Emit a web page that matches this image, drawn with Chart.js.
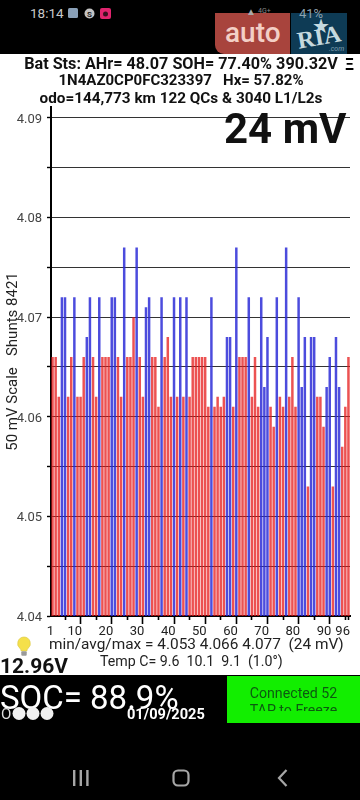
<!DOCTYPE html>
<html><head><meta charset="utf-8">
<style>
html,body{margin:0;padding:0;background:#fff;width:360px;height:800px;overflow:hidden;font-family:Roboto,sans-serif}
.a{position:absolute;white-space:pre;line-height:1}
.t{left:1px;width:360px;text-align:center;font-weight:700;color:#111}
#wrap{position:absolute;left:0;top:54px;width:360px;height:622px}
</style>
<script src="https://cdn.jsdelivr.net/npm/chart.js@4"></script>
</head><body>
<div class="a" style="left:0;top:0;width:360px;height:54px;background:#000"></div>
<div class="a" style="left:0;top:675px;width:360px;height:125px;background:#000"></div>
<div class="a" style="left:30px;top:7px;font-size:13.5px;color:#c9c9c9">18:14</div>
<svg class="a" style="left:67px;top:7px" width="46" height="14"><rect x="1" y="1" width="10" height="10" rx="1.5" fill="#8aa0b8"/><circle cx="22.5" cy="6.5" r="5" fill="#c4c4c4"/><text x="22.5" y="9.5" font-size="8" text-anchor="middle" fill="#222" font-family="Roboto" font-weight="700">S</text><rect x="33" y="1" width="11" height="11" rx="2" fill="#e0246e"/><circle cx="38.5" cy="7" r="2.5" fill="#3a1020"/></svg>
<div class="a" style="left:215px;top:13px;width:75px;height:41px;background:#a8443d;border-radius:0 0 0 9px"></div>
<div class="a" style="left:291px;top:13px;width:56px;height:41px;background:#0e3b55"></div>
<div class="a" style="left:225px;top:19px;font-size:28px;font-weight:500;color:#f3cfc6">auto</div>
<div class="a" style="left:297px;top:25px;font-size:24px;font-weight:700;font-family:'Liberation Serif',serif;color:#c5d9df;transform:rotate(-10deg)">RIA</div>
<div class="a" style="left:312px;top:16px;font-size:20px;color:#c5d9df">★</div>
<div class="a" style="left:329px;top:46px;font-size:7px;font-style:italic;color:#7f9fb0">.com</div>
<div class="a" style="left:246px;top:7px;font-size:10px;color:#a9a9a9">▲</div>
<div class="a" style="left:258px;top:8px;font-size:7px;color:#888">4G+</div>
<div class="a" style="left:299px;top:7px;font-size:13px;color:#8fa3b0">41%</div>
<div id="wrap"><canvas id="c" width="360" height="622"></canvas></div>
<div class="a t" id="t1" style="top:56px;font-size:16.2px">Bat Sts: AHr= 48.07 SOH= 77.40% 390.32V</div>
<div class="a t" id="t2" style="top:73px;font-size:15px">1N4AZ0CP0FC323397   Hx= 57.82%</div>
<div class="a t" id="t3" style="top:91px;font-size:15.3px">odo=144,773 km 122 QCs &amp; 3040 L1/L2s</div>
<div class="a" style="left:345px;top:57px;font-size:16px;font-weight:700;color:#000">Ξ</div>
<div class="a" style="left:224px;top:108px;font-size:42px;font-weight:700;color:#111">24 mV</div>
<svg class="a" style="left:16px;top:636px" width="16" height="21"><path d="M8 1a6.5 6.5 0 0 0-4 11.5c.8.8 1 1.6 1.1 2.5h5.8c.1-.9.3-1.7 1.1-2.5A6.5 6.5 0 0 0 8 1z" fill="#f5e04a" stroke="#d9c64a" stroke-width=".6"/><rect x="5.3" y="15.3" width="5.4" height="4.5" rx="1" fill="#9a9a9a"/></svg>
<div class="a" style="left:49px;top:637px;font-size:15.4px;color:#222">min/avg/max = 4.053 4.066 4.077  (24 mV)</div>
<div class="a" style="left:100px;top:654px;font-size:14.2px;color:#222">Temp C= 9.6  10.1  9.1  (1.0°)</div>
<div class="a" style="left:0;top:656px;font-size:21px;font-weight:700;color:#111">12.96V</div>
<div class="a" style="left:0;top:681px;font-size:33px;color:#fff">SOC= 88.9%</div>
<div class="a" style="left:1px;top:707px;font-size:15px;color:#ddd">O</div>
<svg class="a" style="left:12px;top:706px" width="44" height="15"><circle cx="7" cy="7.5" r="6.5" fill="#f0f0f0"/><circle cx="21" cy="7.5" r="6.5" fill="#f0f0f0"/><circle cx="35" cy="7.5" r="6.5" fill="#f0f0f0"/></svg>
<div class="a" style="left:127px;top:707px;font-size:14.6px;font-weight:700;color:#fff">01/09/2025</div>
<div class="a" style="left:227px;top:676px;width:133px;height:47px;background:#12ee00"></div>
<div class="a" style="left:227px;top:676px;width:133px;height:26px;overflow:hidden;text-align:center;color:#0c5a10;font-size:14.2px;line-height:17px;padding-top:9px">Connected 52
TAP to Freeze</div>
<svg class="a" style="left:60px;top:760px" width="240" height="34"><g fill="#a6a6a6"><rect x="13" y="10" width="2.4" height="16"/><rect x="19.6" y="10" width="2.4" height="16"/><rect x="26.2" y="10" width="2.4" height="16"/></g><rect x="113.5" y="10.5" width="15" height="15" rx="4.5" fill="none" stroke="#a6a6a6" stroke-width="2.2"/><path d="M226.5 10l-7.5 8 7.5 8" fill="none" stroke="#a6a6a6" stroke-width="2.2"/></svg>
<script>
const categories=[1,2,3,4,5,6,7,8,9,10,11,12,13,14,15,16,17,18,19,20,21,22,23,24,25,26,27,28,29,30,31,32,33,34,35,36,37,38,39,40,41,42,43,44,45,46,47,48,49,50,51,52,53,54,55,56,57,58,59,60,61,62,63,64,65,66,67,68,69,70,71,72,73,74,75,76,77,78,79,80,81,82,83,84,85,86,87,88,89,90,91,92,93,94,95,96];
const redCells=[4.066,4.066,4.062,null,null,4.062,4.066,null,4.062,4.062,4.066,null,null,4.066,4.062,null,4.066,4.066,4.066,null,null,4.066,4.062,null,4.066,4.066,4.07,null,4.066,4.062,null,null,4.066,4.066,4.061,null,4.066,4.068,4.062,null,4.062,null,4.062,null,4.062,4.066,4.066,4.066,4.066,4.066,4.061,null,4.061,4.062,4.061,4.062,null,null,4.061,null,4.066,4.066,4.066,null,4.062,4.066,4.061,null,null,null,4.061,4.059,null,4.062,4.061,null,4.062,4.066,4.061,null,null,null,4.053,null,null,4.062,4.062,4.059,null,null,4.053,null,null,4.057,4.061,4.066];
const blueCells=[null,null,null,4.072,4.072,null,null,4.072,null,null,null,4.068,4.072,null,null,4.072,null,null,null,4.072,4.072,null,null,4.077,null,null,null,4.077,null,null,4.071,4.072,null,null,null,4.072,null,null,null,4.072,null,4.072,null,4.072,null,null,null,null,null,null,null,4.072,null,null,null,null,4.068,4.068,null,4.077,null,null,null,4.072,null,null,null,4.072,4.063,4.068,null,null,4.072,null,null,4.077,null,null,null,4.072,4.063,4.068,null,4.068,4.068,null,null,null,4.063,4.066,null,4.068,4.063,null,null,null];
const yTicks=[4.04,4.045,4.05,4.055,4.06,4.065,4.07,4.075,4.08,4.085,4.09];
const yLabelled=[4.04,4.05,4.06,4.07,4.08,4.09];
const xLabelled=[1,10,20,30,40,50,60,70,80,90,96];
const xMinor=[5,15,25,35,45,55,65,75,85,95,96];
const axisTitle='50 mV Scale   Shunts 8421';
const keepX=list=>s=>{s.ticks=list.map(v=>({value:categories.indexOf(v),label:String(v)}));};
const keepY=list=>s=>{s.ticks=list.map(v=>({value:v}));};
new Chart(document.getElementById('c'),{
 type:'bar',
 data:{labels:categories,datasets:[
  {label:'low',data:redCells,backgroundColor:'rgba(230,28,28,.76)'},
  {label:'high',data:blueCells,backgroundColor:'rgba(45,45,215,.85)'}]},
 options:{responsive:false,animation:false,
  layout:{padding:{left:0,right:10,top:53,bottom:0}},
  datasets:{bar:{grouped:false,categoryPercentage:1,barPercentage:.8,borderWidth:0}},
  plugins:{legend:{display:false},tooltip:{enabled:false},title:{display:false}},
  scales:{
   x:{type:'category',offset:true,afterBuildTicks:keepX(xLabelled),
    ticks:{autoSkip:false,maxRotation:0,minRotation:0,align:'end',padding:0,labelOffset:1.5,color:'#222',font:{family:'Roboto',size:13},callback:(v,i)=>xLabelled[i]},
    grid:{drawOnChartArea:false,offset:false,tickLength:8,tickWidth:1.6,tickColor:c=>(c.index===0||c.index===xLabelled.length-1)?'transparent':'#000'},
    border:{color:'#000',width:2},afterFit:s=>{s.height=60}},
   xm:{axis:'x',type:'category',offset:true,position:{y:4.04},afterBuildTicks:keepX(xMinor),
    ticks:{display:false},grid:{drawOnChartArea:false,offset:false,tickLength:4,tickWidth:1.6,tickColor:'#000'},border:{display:false}},
   y:{type:'linear',min:4.04,max:4.0911,afterBuildTicks:keepY(yTicks),
    ticks:{autoSkip:false,padding:5,labelOffset:1.5,color:'#444',font:{family:'Roboto',size:13},callback:v=>{const t=yLabelled.find(q=>Math.abs(q-v)<1e-6);return t?t.toFixed(2):'';}},
    grid:{color:'#333',lineWidth:1,tickLength:4,tickWidth:1.4,tickColor:'#000'},
    border:{color:'#000',width:2},
    title:{display:true,text:axisTitle,color:'#222',font:{family:'Roboto',size:15},padding:{top:4,bottom:0}},
    afterFit:s=>{s.width=51}}
  }}
});
</script>
</body></html>
